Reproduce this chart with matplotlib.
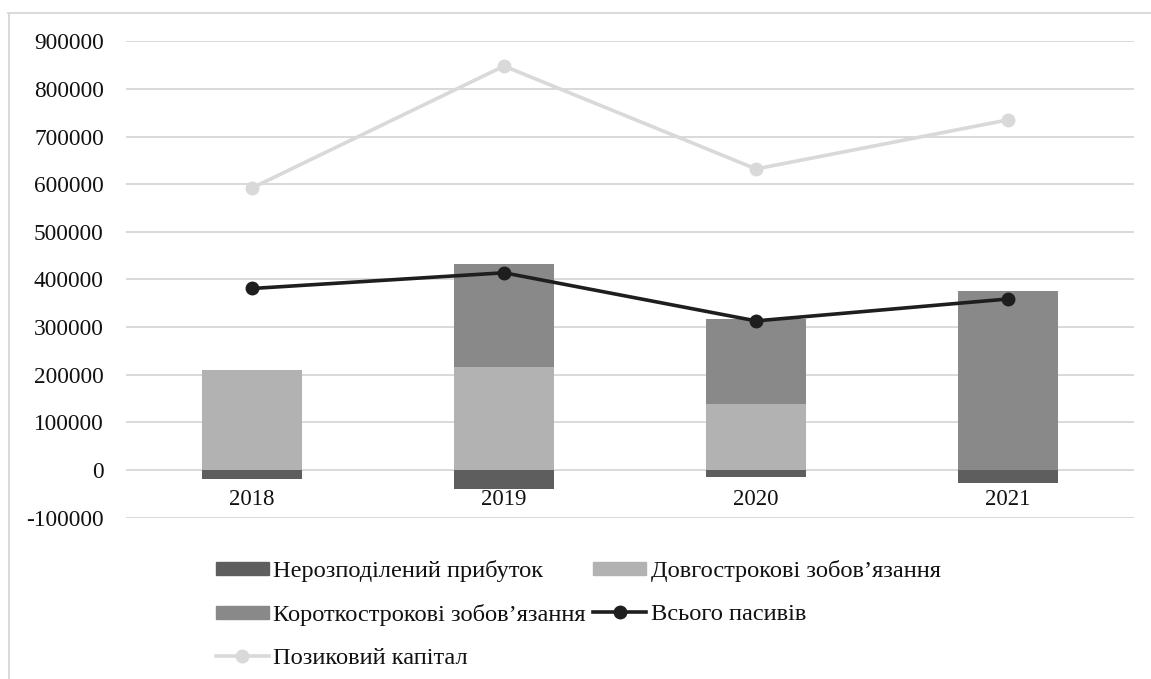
import matplotlib.pyplot as plt
from matplotlib.lines import Line2D
import numpy as np

plt.rcParams['font.family'] = ['Liberation Serif', 'DejaVu Serif']
plt.rcParams['axes.unicode_minus'] = False

years = ['2018', '2019', '2020', '2021']
retained = [-20000, -40500, -14500, -26500]          # Нерозподілений прибуток
long_term = [210000, 216000, 139000, 0]              # Довгострокові зобов'язання
short_term = [0, 216000, 178000, 375000]             # Короткострокові зобов'язання
total = [381000, 414000, 313000, 359000]             # Всього пасивів
borrowed = [592000, 848000, 632000, 735000]          # Позиковий капітал

c_ret = '#5e5e5e'
c_long = '#b2b2b2'
c_short = '#898989'
c_total = '#1e1e1e'
c_borr = '#d9d9d9'

fig = plt.figure(figsize=(11.51, 6.79), dpi=100)
ax = fig.add_axes([126 / 1151, 1 - 517.6 / 679, (1134 - 126) / 1151, (517.6 - 41.3) / 679])

x = np.arange(len(years))
w = 0.4
ax.bar(x, retained, w, color=c_ret, zorder=2)
ax.bar(x, long_term, w, color=c_long, zorder=2)
ax.bar(x, short_term, w, bottom=long_term, color=c_short, zorder=2)
ax.plot(x, borrowed, color=c_borr, lw=2.6, marker='o', ms=9, zorder=3)
ax.plot(x, total, color=c_total, lw=2.6, marker='o', ms=9, zorder=4)

ax.set_xlim(-0.5, 3.5)
ax.set_ylim(-100000, 900000)
ax.set_yticks(np.arange(-100000, 900001, 100000))
ax.yaxis.grid(True, color='#d9d9d9', lw=1.4, zorder=0)
ax.set_axisbelow(True)
for s in ['top', 'right', 'left']:
    ax.spines[s].set_visible(False)
ax.spines['bottom'].set_position(('data', 0))
ax.spines['bottom'].set_visible(False)
ax.set_xticks(x)
ax.set_xticklabels(years)
ax.tick_params(axis='x', length=0, pad=14, labelsize=16.5, labelcolor='#111111')
ax.tick_params(axis='y', length=0, pad=16, labelsize=16.8, labelcolor='#111111')

# outer chart frame (top and left edges)
fig.add_artist(Line2D([8 / 1151, 1.0], [1 - 12.5 / 679] * 2, color='#d9d9d9', lw=1.4, transform=fig.transFigure))
fig.add_artist(Line2D([8.5 / 1151] * 2, [0.0, 1 - 12.5 / 679], color='#d9d9d9', lw=1.4, transform=fig.transFigure))

h_ret = plt.Rectangle((0, 0), 1, 1, color=c_ret)
h_long = plt.Rectangle((0, 0), 1, 1, color=c_long)
h_short = plt.Rectangle((0, 0), 1, 1, color=c_short)
h_total = Line2D([], [], color=c_total, lw=2.6, marker='o', ms=9)
h_borr = Line2D([], [], color=c_borr, lw=2.6, marker='o', ms=9)

handles = [h_ret, h_short, h_borr, h_long, h_total]
labels = ['Нерозподілений прибуток', 'Короткострокові зобов’язання', 'Позиковий капітал',
          'Довгострокові зобов’язання', 'Всього пасивів']
leg = fig.legend(handles, labels, ncol=2, loc='upper left', bbox_to_anchor=(216 / 1151, 1 - 560 / 679),
                 frameon=False, fontsize=17.6, handlelength=2.15, handleheight=0.42, handletextpad=0.2,
                 columnspacing=0.3, labelspacing=0.9, borderpad=0, borderaxespad=0)
for t in leg.get_texts():
    t.set_color('#111111')

fig.savefig('out.png', dpi=100)
